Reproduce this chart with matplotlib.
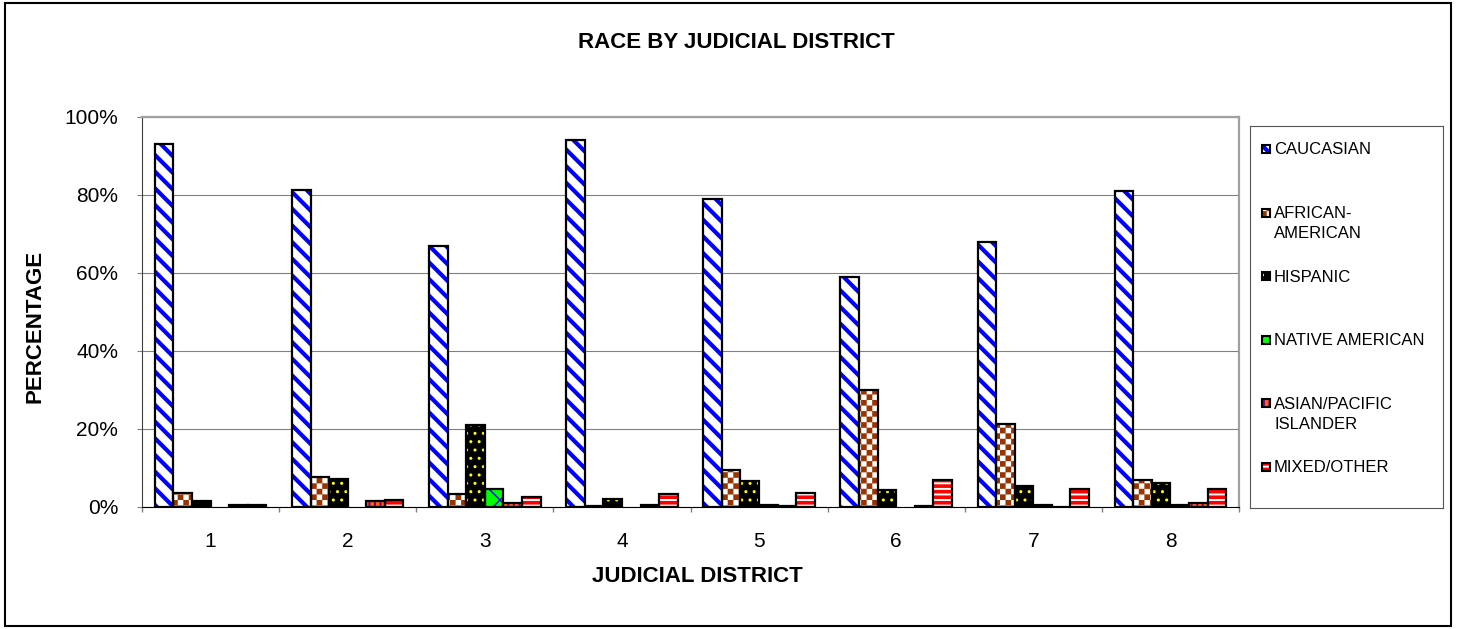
import warnings
import numpy as np
import matplotlib
matplotlib.use("Agg")
import matplotlib.pyplot as plt
from matplotlib import hatch as mhatch
from matplotlib.path import Path
from matplotlib.patches import Rectangle
from matplotlib.ticker import PercentFormatter

warnings.filterwarnings("ignore")

# data (percent of each district)
districts = ["1", "2", "3", "4", "5", "6", "7", "8"]
races = ["CAUCASIAN", "AFRICAN-\nAMERICAN", "HISPANIC", "NATIVE AMERICAN",
         "ASIAN/PACIFIC\nISLANDER", "MIXED/OTHER"]
caucasian = [93.0, 81.3, 67.0, 94.0, 79.0, 59.0, 68.0, 81.0]
african_american = [3.7, 7.8, 3.4, 0.3, 9.5, 30.0, 21.2, 6.8]
hispanic = [1.6, 7.2, 21.0, 2.0, 6.7, 4.3, 5.3, 6.2]
native_american = [0.0, 0.0, 4.6, 0.0, 0.4, 0.0, 0.6, 0.5]
asian_pacific = [0.5, 1.5, 1.0, 0.4, 0.2, 0.2, 0.1, 1.0]
mixed_other = [0.4, 1.8, 2.6, 3.3, 3.7, 7.0, 4.7, 4.7]
series = [caucasian, african_american, hispanic, native_american,
          asian_pacific, mixed_other]

# fill patterns (face colour, hatch colour, hatch, hatch line width)
styles = [
    ("white", "#0000ff", "\\\\", 3.0),
    ("white", "#993300", "ccc", 0.1),
    ("black", "#ffff00", "..", 1.0),
    ("#00ff00", "#0000ff", "x", 1.0),
    ("#ff6600", "#800080", "|||", 1.5),
    ("white", "#ff0000", "---", 2.6),
]


# checkerboard hatch ('c'), like the Excel pattern fill
class CheckerHatch(mhatch.HatchPatternBase):
    def __init__(self, hatch, density):
        self.n = hatch.count('c') * density
        self.num_vertices = (self.n * self.n // 2) * 5

    def set_vertices_and_codes(self, vertices, codes):
        s = 1.0 / self.n
        k = 0
        for i in range(self.n):
            for j in range(self.n):
                if (i + j) % 2:
                    continue
                x0, y0 = i * s, j * s
                vertices[k:k + 5] = [(x0, y0), (x0 + s, y0), (x0 + s, y0 + s),
                                     (x0, y0 + s), (x0, y0)]
                codes[k] = Path.MOVETO
                codes[k + 1:k + 4] = Path.LINETO
                codes[k + 4] = Path.CLOSEPOLY
                k += 5


mhatch._hatch_types.append(CheckerHatch)

plt.rcParams['font.family'] = ['Liberation Sans', 'DejaVu Sans']

W, H = 1457, 629
fig = plt.figure(figsize=(W / 100, H / 100), dpi=100)
ax = fig.add_axes([142 / W, 1 - 507 / H, (1239 - 142) / W, (507 - 117) / H])

x = np.arange(len(districts))
w = 0.1355
for k, (vals, (face, hc, hatch, hlw)) in enumerate(zip(series, styles)):
    pos = x + (k - 2.5) * w
    with plt.rc_context({'hatch.linewidth': hlw}):
        bars = ax.bar(pos, vals, w, color=face, edgecolor=hc, linewidth=0,
                      hatch=hatch, zorder=2)
    for b in bars:
        if hasattr(b, 'set_hatch_linewidth'):
            b.set_hatch_linewidth(hlw)
    lws = [1.6 if v > 0 else 0 for v in vals]
    ax.bar(pos, vals, w, fill=False, edgecolor="black", linewidth=lws, zorder=3)

ax.set_xlim(-0.5, len(districts) - 0.5)
ax.set_ylim(0, 100)
ax.set_yticks(np.arange(0, 101, 20))
ax.yaxis.set_major_formatter(PercentFormatter(decimals=0))
ax.set_xticks(x)
ax.set_xticklabels(districts)
ax.set_xticks(np.arange(-0.5, len(districts)), minor=True)
ax.tick_params(axis='x', which='major', length=0, pad=18, labelsize=15)
ax.tick_params(axis='x', which='minor', length=3.6, color='#808080', width=1)
ax.tick_params(axis='y', length=3.6, color='#808080', pad=13.5, labelsize=15)
ax.yaxis.grid(True, color='#808080', linewidth=0.8)
ax.set_axisbelow(True)
for side in ['top', 'right']:
    ax.spines[side].set_color('#a0a0a0')
    ax.spines[side].set_linewidth(1.6)
ax.spines['left'].set_color('#404040')
ax.spines['bottom'].set_color('black')

fig.text(736 / W, 1 - 42 / H, "RACE BY JUDICIAL DISTRICT", ha='center',
         va='center', fontsize=16, fontweight='bold')
fig.text(697 / W, 1 - 576 / H, "JUDICIAL DISTRICT", ha='center',
         va='center', fontsize=16, fontweight='bold')
fig.text(35 / W, 1 - 326 / H, "PERCENTAGE", ha='center', va='center',
         rotation=90, fontsize=16, fontweight='bold')

# legend box, one slot per series
lax = fig.add_axes([1250 / W, 1 - 508 / H, 193 / W, 382 / H])
lax.set_xlim(0, 193)
lax.set_ylim(382, 0)
lax.set_xticks([])
lax.set_yticks([])
for sp in lax.spines.values():
    sp.set_color('#555555')
    sp.set_linewidth(0.8)
for i, (label, (face, hc, hatch, hlw)) in enumerate(zip(races, styles)):
    yc = 23 + 63.6 * i
    with plt.rc_context({'hatch.linewidth': hlw}):
        h = Rectangle((12, yc - 4), 8, 8, facecolor=face, edgecolor=hc,
                      linewidth=0, hatch=hatch)
    if hasattr(h, 'set_hatch_linewidth'):
        h.set_hatch_linewidth(hlw)
    lax.add_patch(h)
    lax.add_patch(Rectangle((12, yc - 4), 8, 8, fill=False,
                            edgecolor='black', linewidth=1.5))
    lax.text(24, yc - 6.5, label, ha='left', va='top', fontsize=12,
             linespacing=1.45)

# outer chart border
fig.patches.append(Rectangle((5 / W, 3 / H), 1446 / W, 623 / H,
                             transform=fig.transFigure, fill=False,
                             edgecolor='black', linewidth=1.5))

fig.savefig("out.png", dpi=100)
